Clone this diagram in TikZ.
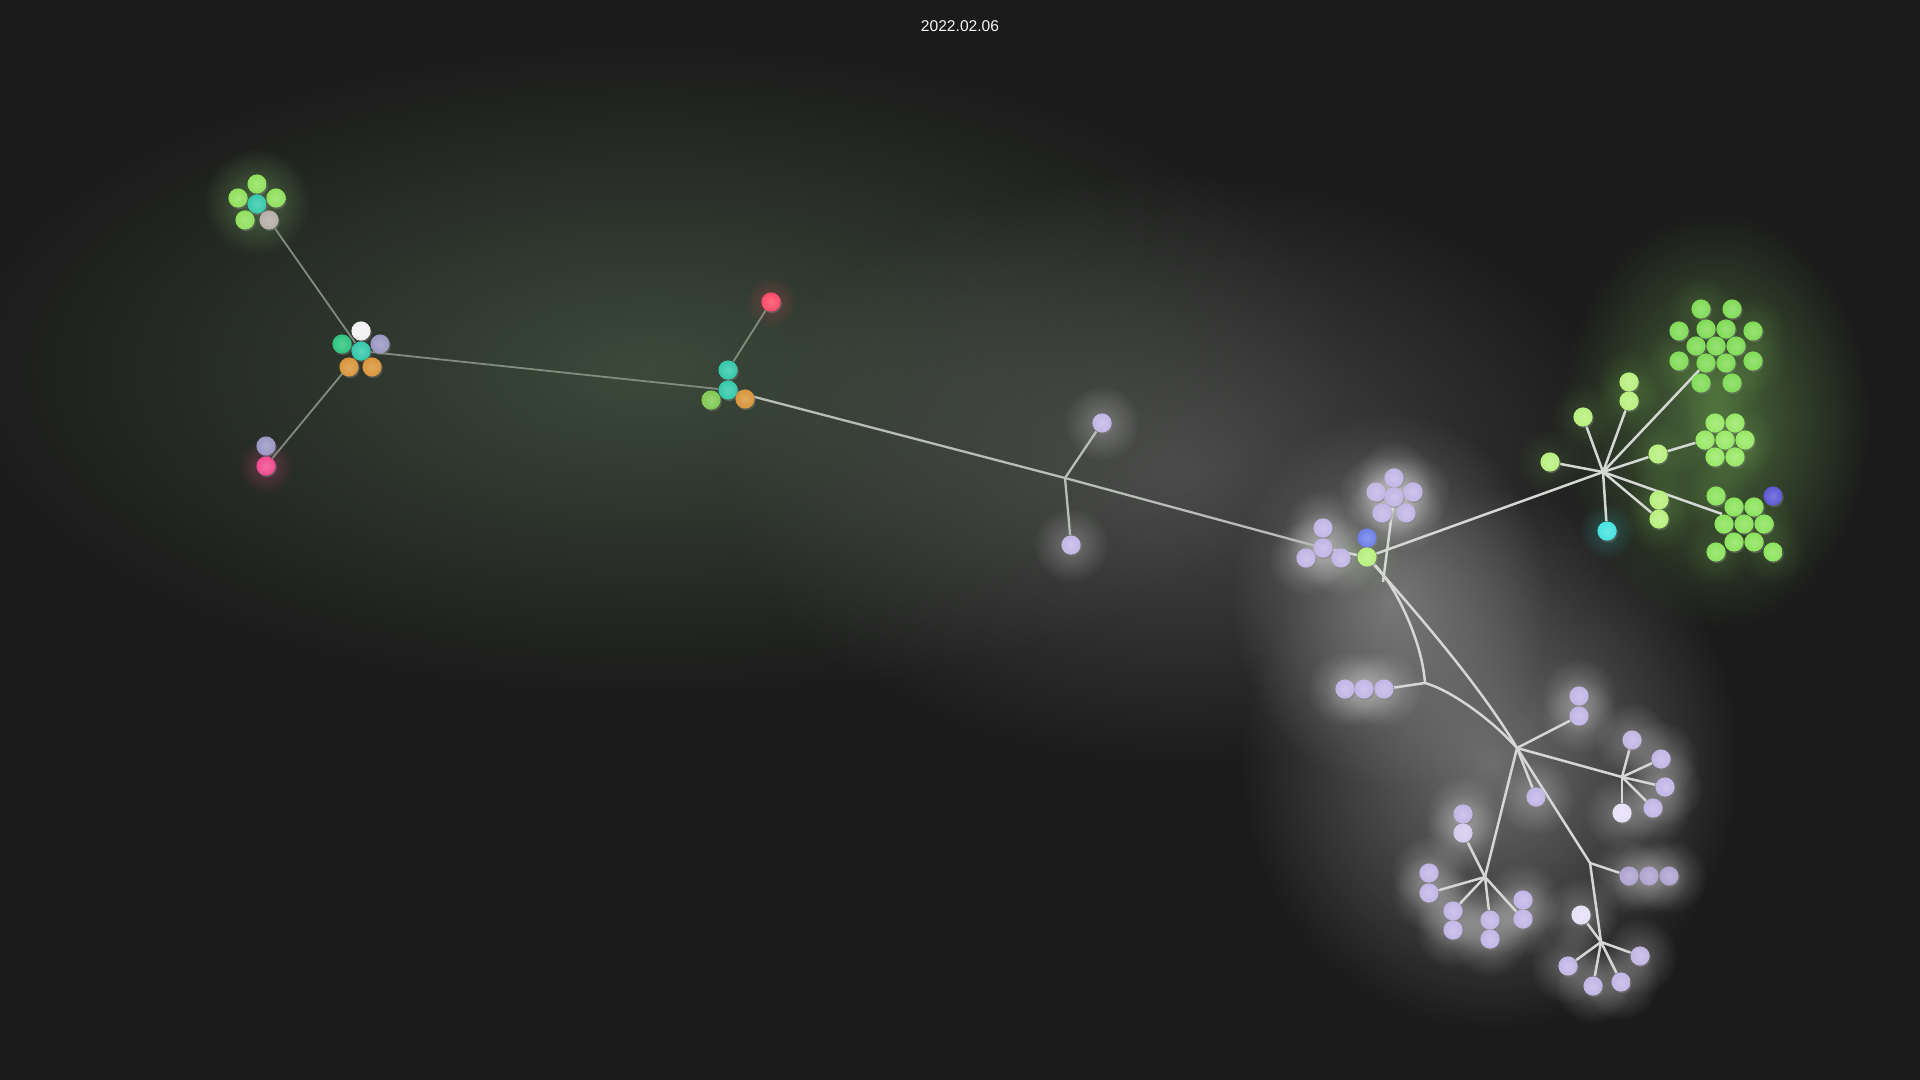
\documentclass[tikz,border=0pt]{standalone}
\usepackage{fontspec}
\setmainfont{Liberation Sans}
\usetikzlibrary{fadings,shadows}
\tikzfading[name=glowfade, inner color=transparent!0, outer color=transparent!100]
\pgfdeclarelayer{glow}
\pgfdeclarelayer{edges}
\pgfsetlayers{glow,edges,main}
\definecolor{bgc}{HTML}{1B1B1B}
\definecolor{cgreen}{HTML}{8FE05C}
\definecolor{cteal}{HTML}{34C8AA}
\definecolor{cjade}{HTML}{2EC47E}
\definecolor{cstone}{HTML}{B5AEA8}
\definecolor{cwhite}{HTML}{F2F2F2}
\definecolor{cslate}{HTML}{9A96C2}
\definecolor{corange}{HTML}{D9953A}
\definecolor{cpink}{HTML}{F04A8E}
\definecolor{cred}{HTML}{FF4A68}
\definecolor{clav}{HTML}{C2B6E6}
\definecolor{clavlt}{HTML}{E6E0F8}
\definecolor{cblue}{HTML}{6C7FE8}
\definecolor{cblue2}{HTML}{5C58D4}
\definecolor{clime}{HTML}{B8F07E}
\definecolor{ckgreen}{HTML}{80DB56}
\definecolor{cmgreen}{HTML}{98E866}
\definecolor{cngreen}{HTML}{8CE35C}
\definecolor{ccyan}{HTML}{44E2E0}
\definecolor{edgeleft}{HTML}{7F8C7E}
\definecolor{edgemid}{HTML}{B8BDB8}
\definecolor{edgeright}{HTML}{D4D7D4}
\begin{document}
\begin{tikzpicture}[x=0.5pt,y=-0.5pt,
  ball/.style={circle, inner sep=0pt, minimum size=9.6pt, draw=none,
    shading=radial, inner color=#1!80!white, outer color=#1,
    drop shadow={shadow xshift=0.6pt, shadow yshift=-0.8pt, opacity=0.45}},
  linkL/.style={draw=edgeleft, line width=0.9pt},
  linkM/.style={draw=edgemid, line width=1.15pt},
  linkR/.style={draw=edgeright, line width=1.25pt},
  halo/.style={path fading=glowfade, fill opacity=#1}]
\useasboundingbox (0,0) rectangle (1920,1080);
\begin{pgfonlayer}{glow}
\fill[bgc] (0,0) rectangle (1920,1080);
\fill[color={rgb,255:red,75;green,94;blue,73}, halo=0.7] (650,370) ellipse (350pt and 165pt);
\fill[color={rgb,255:red,110;green,110;blue,110}, halo=0.55] (1180,470) ellipse (230pt and 150pt);
\fill[color={rgb,255:red,165;green,165;blue,165}, halo=0.6] (1490,760) ellipse (125pt and 135pt);
\fill[color={rgb,255:red,165;green,165;blue,165}, halo=0.55] (1390,600) ellipse (80pt and 95pt);
\fill[color={rgb,255:red,95;green,138;blue,74}, halo=0.7] (1715,420) ellipse (78pt and 105pt);
\fill[color={rgb,255:red,110;green,158;blue,90}, halo=0.55] (257,202) circle (27pt);
\fill[cpink, halo=0.3] (266,466) circle (14pt);
\fill[cred, halo=0.25] (771,302) circle (13pt);
\end{pgfonlayer}

% title
\node[text=white!94!gray, font=\fontsize{7.8pt}{9pt}\selectfont] (title) at (960,26) {2022.02.06};

% top-left cluster
\node[ball=cgreen] (a1) at (257,184) {};
\node[ball=cgreen] (a2) at (238,198) {};
\node[ball=cgreen] (a3) at (276,198) {};
\node[ball=cteal]  (a4) at (257,204) {};
\node[ball=cgreen] (a5) at (245,220) {};
\node[ball=cstone] (a6) at (269,220) {};
% second cluster
\node[ball=cwhite]  (b1) at (361,331) {};
\node[ball=cjade]   (b2) at (342,344) {};
\node[ball=cteal]   (b3) at (361,351) {};
\node[ball=cslate]  (b4) at (380,344) {};
\node[ball=corange] (b5) at (349,367) {};
\node[ball=corange] (b6) at (372,367) {};
% pair
\node[ball=cslate] (p1) at (266,446) {};
\node[ball=cpink]  (p2) at (266,466) {};
% middle cluster
\node[ball=cred]    (c1) at (771,302) {};
\node[ball=cteal]   (c2) at (728,370) {};
\node[ball=cteal]   (c3) at (728,390) {};
\node[ball=cgreen!90!black] (c4) at (711,400) {};
\node[ball=corange] (c5) at (745,399) {};
% junction
\coordinate (j1) at (1065,478);
\node[ball=clav] (d1) at (1102,423) {};
\node[ball=clav] (d2) at (1071,545) {};
% lavender group
\node[ball=clav] (l1) at (1323,528) {};
\node[ball=clav] (l2) at (1323,548) {};
\node[ball=clav] (l3) at (1306,558) {};
\node[ball=clav] (l4) at (1341,558) {};
\node[ball=cblue] (bl1) at (1367,538) {};
\node[ball=clime] (gn) at (1367,557) {};
\node[ball=clav] (u1) at (1394,478) {};
\node[ball=clav] (u2) at (1376,492) {};
\node[ball=clav] (u3) at (1394,497) {};
\node[ball=clav] (u4) at (1413,492) {};
\node[ball=clav] (u5) at (1382,513) {};
\node[ball=clav] (u6) at (1406,513) {};
% chain
\node[ball=clav] (ch1) at (1345,689) {};
\node[ball=clav] (ch2) at (1364,689) {};
\node[ball=clav] (ch3) at (1384,689) {};
\coordinate (k1) at (1425,683);
\coordinate (mg) at (1383,582);
% hub B
\coordinate (hB) at (1517,748);
\node[ball=clav] (q1) at (1579,696) {};
\node[ball=clav] (q2) at (1579,716) {};
\node[ball=clav] (s1) at (1536,797) {};
% hub C
\coordinate (hC) at (1622,777);
\node[ball=clav] (cc1) at (1632,740) {};
\node[ball=clav] (cc2) at (1661,759) {};
\node[ball=clav] (cc3) at (1665,787) {};
\node[ball=clav] (cc4) at (1653,808) {};
\node[ball=clavlt] (cc5) at (1622,813) {};
% hub D
\coordinate (hD) at (1485,877);
\node[ball=clav] (dd1) at (1463,814) {};
\node[ball=clav!70!white] (dd2) at (1463,833) {};
\node[ball=clav] (dd3) at (1429,873) {};
\node[ball=clav] (dd4) at (1429,893) {};
\node[ball=clav] (dd5) at (1453,911) {};
\node[ball=clav] (dd6) at (1453,930) {};
\node[ball=clav] (dd7) at (1490,920) {};
\node[ball=clav] (dd8) at (1490,939) {};
\node[ball=clav] (dd9) at (1523,900) {};
\node[ball=clav] (dd10) at (1523,919) {};
% hub E
\coordinate (hE) at (1590,863);
\node[ball=clav!90!black] (e1) at (1629,876) {};
\node[ball=clav!90!black] (e2) at (1649,876) {};
\node[ball=clav!90!black] (e3) at (1669,876) {};
% hub F
\coordinate (hF) at (1601,942);
\node[ball=clavlt] (f1) at (1581,915) {};
\node[ball=clav] (f2) at (1568,966) {};
\node[ball=clav] (f3) at (1593,986) {};
\node[ball=clav] (f4) at (1621,982) {};
\node[ball=clav] (f5) at (1640,956) {};
% hub G
\coordinate (hG) at (1603,472);
\node[ball=clime] (g1) at (1550,462) {};
\node[ball=clime] (g2) at (1583,417) {};
\node[ball=clime] (g3a) at (1629,382) {};
\node[ball=clime] (g3b) at (1629,401) {};
\node[ball=clime] (g4) at (1658,454) {};
\node[ball=clime] (g5a) at (1659,500) {};
\node[ball=clime] (g5b) at (1659,519) {};
\node[ball=ccyan] (cy) at (1607,531) {};
% big cluster
\node[ball=ckgreen] (bk1) at (1701,309) {};
\node[ball=ckgreen] (bk2) at (1732,309) {};
\node[ball=ckgreen] (bk3) at (1679,331) {};
\node[ball=ckgreen] (bk4) at (1706,329) {};
\node[ball=ckgreen] (bk5) at (1726,329) {};
\node[ball=ckgreen] (bk6) at (1753,331) {};
\node[ball=ckgreen] (bk7) at (1696,346) {};
\node[ball=ckgreen] (bk8) at (1716,346) {};
\node[ball=ckgreen] (bk9) at (1736,346) {};
\node[ball=ckgreen] (bk10) at (1679,361) {};
\node[ball=ckgreen] (bk11) at (1706,363) {};
\node[ball=ckgreen] (bk12) at (1726,363) {};
\node[ball=ckgreen] (bk13) at (1753,361) {};
\node[ball=ckgreen] (bk14) at (1701,383) {};
\node[ball=ckgreen] (bk15) at (1732,383) {};
% middle green cluster
\node[ball=cmgreen] (m1) at (1715,423) {};
\node[ball=cmgreen] (m2) at (1735,423) {};
\node[ball=cmgreen] (m3) at (1705,440) {};
\node[ball=cmgreen] (m4) at (1725,440) {};
\node[ball=cmgreen] (m5) at (1745,440) {};
\node[ball=cmgreen] (m6) at (1715,457) {};
\node[ball=cmgreen] (m7) at (1735,457) {};
% bottom green cluster
\coordinate (nctr) at (1722,514);
\node[ball=cngreen] (n1) at (1716,496) {};
\node[ball=cngreen] (n2) at (1734,507) {};
\node[ball=cngreen] (n3) at (1754,507) {};
\node[ball=cngreen] (n4) at (1724,524) {};
\node[ball=cngreen] (n5) at (1744,524) {};
\node[ball=cngreen] (n6) at (1764,524) {};
\node[ball=cngreen] (n7) at (1734,542) {};
\node[ball=cngreen] (n8) at (1754,542) {};
\node[ball=cngreen] (n9) at (1716,552) {};
\node[ball=cngreen] (n10) at (1773,552) {};
\node[ball=cblue2] (nb) at (1773,496) {};

% halos around nodes
\begin{pgfonlayer}{glow}
\foreach \n in {d1,d2,l1,l2,l3,l4,u1,u2,u3,u4,u5,u6,ch1,ch2,ch3,q1,q2,s1,cc1,cc2,cc3,cc4,cc5,dd1,dd2,dd3,dd4,dd5,dd6,dd7,dd8,dd9,dd10,e1,e2,e3,f1,f2,f3,f4,f5}
  {\fill[white, halo=0.28] (\n) circle (19pt);}
\foreach \n in {g1,g2,g3a,g3b,g4,g5a,g5b,gn,bk1,bk6,bk10,bk13,bk14,bk15,m1,m5,m7,n1,n6,n9,n10}
  {\fill[cgreen, halo=0.15] (\n) circle (17pt);}
\fill[ccyan, halo=0.25] (cy) circle (14pt);
\end{pgfonlayer}

% connectors
\begin{pgfonlayer}{edges}
\draw[linkL] (a6) -- (b3);
\draw[linkL] (b3) -- (p2);
\draw[linkL] (b3) -- (c3);
\draw[linkL] (c2) -- (c1);
\draw[linkM] (c3) -- (j1);
\draw[linkM] (j1) -- (d1);
\draw[linkM] (j1) -- (d2);
\draw[linkM] (j1) -- (l2);
\draw[linkR] (l2) -- (gn);
\draw[linkR] (gn) -- (hG);
\foreach \n in {g1,g2,g3b,bk11,g4,g5b,nctr,cy} {\draw[linkR] (hG) -- (\n);}
\draw[linkR] (g4) -- (m3);
\draw[linkR] (u3) -- (mg);
\draw[linkR] (gn) .. controls (1395,585) and (1422,640) .. (k1);
\draw[linkR] (ch3) -- (k1);
\draw[linkR] (k1) .. controls (1450,690) and (1490,718) .. (hB);
\draw[linkR] (gn) .. controls (1410,605) and (1480,685) .. (hB);
\foreach \n in {q2,hC,s1,hD,hE} {\draw[linkR] (hB) -- (\n);}
\foreach \n in {cc1,cc2,cc3,cc4,cc5} {\draw[linkR] (hC) -- (\n);}
\foreach \n in {dd2,dd4,dd5,dd7,dd10} {\draw[linkR] (hD) -- (\n);}
\draw[linkR] (hE) -- (e1);
\draw[linkR] (hE) -- (hF);
\foreach \n in {f1,f2,f3,f4,f5} {\draw[linkR] (hF) -- (\n);}
\end{pgfonlayer}
\end{tikzpicture}
\end{document}
